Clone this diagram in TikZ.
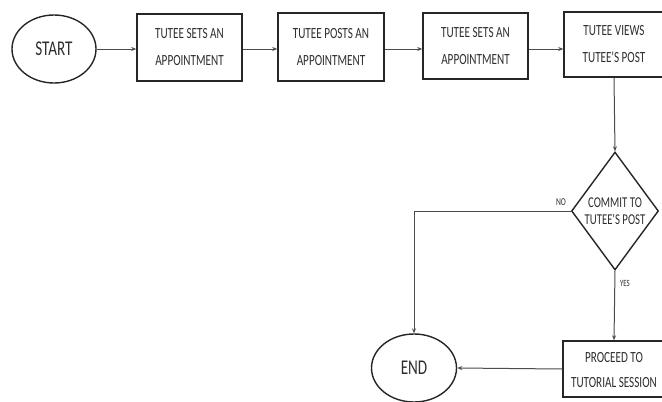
\documentclass[tikz,border=0pt]{standalone}
\usepackage{fontspec}
\newfontfamily\cf[FakeStretch=0.72]{Carlito}
\usetikzlibrary{shapes.geometric,arrows.meta}
\begin{document}
\begin{tikzpicture}[x=1pt,y=-1pt,
  boxtext/.style={font=\cf\fontsize{15.5}{27}\selectfont, text=black!82, align=center},
  procbox/.style={draw=black!85, line width=1.5pt, rectangle, minimum width=#1, inner sep=0pt},
  term/.style={draw=black!85, line width=1.4pt, ellipse, minimum width=84pt, minimum height=68pt, inner sep=0pt, font=\cf\fontsize{21}{24}\selectfont, text=black!82},
  conn/.style={draw=black!70, line width=1pt, -{Stealth[length=5pt,width=4pt]}},
  lbl/.style={font=\cf\fontsize{10.5}{12}\selectfont, text=black!82}]
\useasboundingbox (0,0) rectangle (662,402);
\fill[white] (0,0) rectangle (662,402);

\node[term] (start) at (54,49) {START};
\node[procbox=105pt, minimum height=67pt] (b1) at (189.5,47.5) {};
\node[boxtext] at (b1) {TUTEE SETS AN\\APPOINTMENT};
\node[procbox=106pt, minimum height=68pt] (b2) at (331,47) {};
\node[boxtext] at (b2) {TUTEE POSTS AN\\APPOINTMENT};
\node[procbox=105pt, minimum height=66pt] (b3) at (475.5,46) {};
\node[boxtext] at (b3) {TUTEE SETS AN\\APPOINTMENT};
\node[procbox=100pt, minimum height=65pt] (b4) at (614,44.5) {};
\node[boxtext] at (b4) {TUTEE VIEWS\\TUTEE'S POST};

\node[draw=black!85, line width=1.4pt, diamond, minimum width=87pt, minimum height=118pt, inner sep=0pt] (d) at (615,211) {};
\node[font=\cf\fontsize{15}{17}\selectfont, text=black!82, align=center] at (d) {COMMIT TO\\TUTEE'S POST};

\node[term, minimum width=85pt] (e) at (414,368) {END};
\node[procbox=102pt, minimum height=56pt] (b5) at (614,369) {};
\node[font=\cf\fontsize{15.5}{25}\selectfont, text=black!82, align=center] at (614,370) {PROCEED TO\\TUTORIAL SESSION};

\draw[conn] (start.east) -- (start.east -| b1.west);
\draw[conn] (b1.east |- start.east) -- (b2.west |- start.east);
\draw[conn] (b2.east |- start.east) -- (b3.west |- start.east);
\draw[conn] (b3.east |- start.east) -- (b4.west |- start.east);
\draw[conn] (b4.south) -- (d.north);
\draw[conn] (d.west) -| (e.north);
\draw[conn] (d.south) -- (b5.north);
\draw[conn] (b5.west) -- (e.east);

\node[lbl] (no) at (561,202) {NO};
\node[lbl, font=\cf\fontsize{9.5}{11}\selectfont] (yes) at (625,283) {YES};
\end{tikzpicture}
\end{document}
